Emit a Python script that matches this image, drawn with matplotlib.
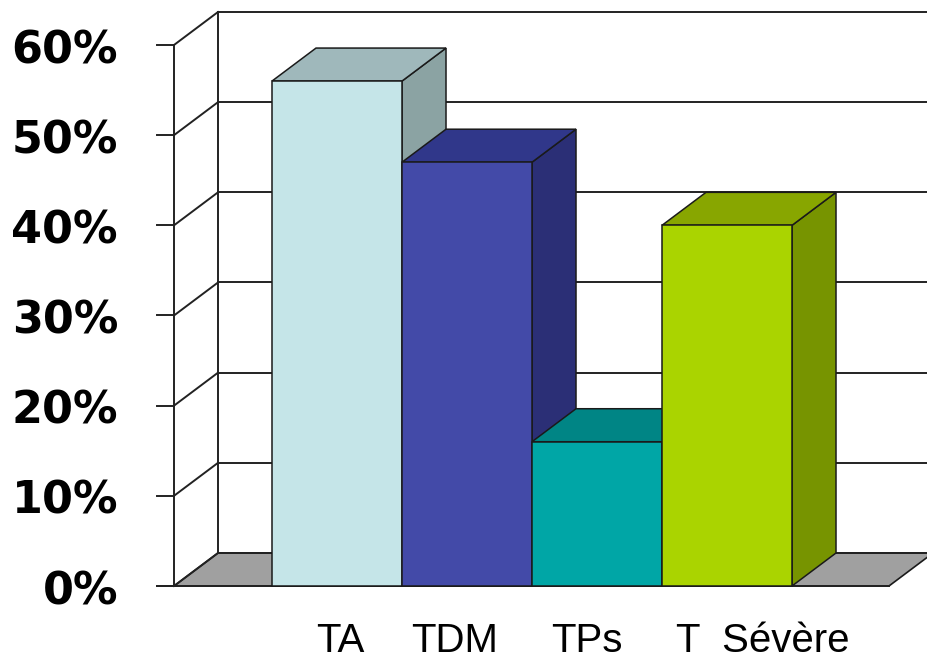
import matplotlib.pyplot as plt
from matplotlib.patches import Polygon

# categories and values (%)
categories = ['TA', 'TDM', 'TPs', 'T  Sévère']
values = [56, 47, 16, 40]
yticks = [0, 10, 20, 30, 40, 50, 60]

# face colours: front, top, side
front_cols = ['#c5e5e8', '#434aa8', '#00a6a6', '#aad400']
top_cols = ['#9fb8bb', '#30378a', '#008585', '#88a600']
side_cols = ['#8ba3a3', '#2b2f76', '#007575', '#779400']

# 3d look: depth offset of the back plane
dx, dy = 0.3385, 3.66
x_axis = -0.754          # front vertical axis
x_floor_end = 4.746      # right end of the floor
tick_len = 0.131
edge = '#1a1a1a'

fig = plt.figure(figsize=(9.27, 6.58), dpi=100)
ax = fig.add_axes([0, 0, 1, 1])
ax.set_xlim(-272 / 130, (927 - 272) / 130)
ax.set_ylim(-(658 - 586) / 9.0167, 586 / 9.0167)
ax.axis('off')

# floor
floor = Polygon([(x_axis, 0), (x_axis + dx, dy), (x_floor_end + dx, dy), (x_floor_end, 0)],
                closed=True, facecolor='#a0a0a0', edgecolor=edge, lw=1.2, zorder=1)
ax.add_patch(floor)

# back wall gridlines, side wall diagonals and ticks
for t in yticks:
    ax.plot([x_axis + dx, x_floor_end + dx], [t + dy, t + dy], color='#222222', lw=1.4, zorder=2)
    ax.plot([x_axis, x_axis + dx], [t, t + dy], color='#222222', lw=1.4, zorder=2)
    ax.plot([x_axis - tick_len, x_axis], [t, t], color='#222222', lw=1.4, zorder=2)
    ax.text(-1.185, t - 2.0, f'{t}%', ha='right', va='baseline', fontsize=32,
            fontweight='bold', family='DejaVu Sans', color='black')

ax.plot([x_axis, x_axis], [0, yticks[-1]], color='#222222', lw=1.4, zorder=2)
ax.plot([x_axis + dx, x_axis + dx], [dy, yticks[-1] + dy], color='#222222', lw=1.4, zorder=2)
ax.plot([x_axis - tick_len, x_floor_end], [0, 0], color='#222222', lw=1.4, zorder=2)

# bars: sides first, then tops, then fronts
for i, v in enumerate(values):
    x1 = i + 1
    side = Polygon([(x1, 0), (x1, v), (x1 + dx, v + dy), (x1 + dx, dy)],
                   closed=True, facecolor=side_cols[i], edgecolor=edge, lw=1.1, zorder=3)
    ax.add_patch(side)
for i, v in enumerate(values):
    x0, x1 = i, i + 1
    top = Polygon([(x0, v), (x1, v), (x1 + dx, v + dy), (x0 + dx, v + dy)],
                  closed=True, facecolor=top_cols[i], edgecolor=edge, lw=1.1, zorder=4)
    ax.add_patch(top)
for i, v in enumerate(values):
    front = Polygon([(i, 0), (i + 1, 0), (i + 1, v), (i, v)],
                    closed=True, facecolor=front_cols[i], edgecolor=edge, lw=1.1, zorder=5)
    ax.add_patch(front)

# category labels
label_x = [0.523, 1.408, 2.423, 3.777]
for lx, c in zip(label_x, categories):
    ax.text(lx, -7.3, c, ha='center', va='baseline', fontsize=29,
            family='Liberation Sans', color='black')

fig.savefig('out.png', dpi=100)
